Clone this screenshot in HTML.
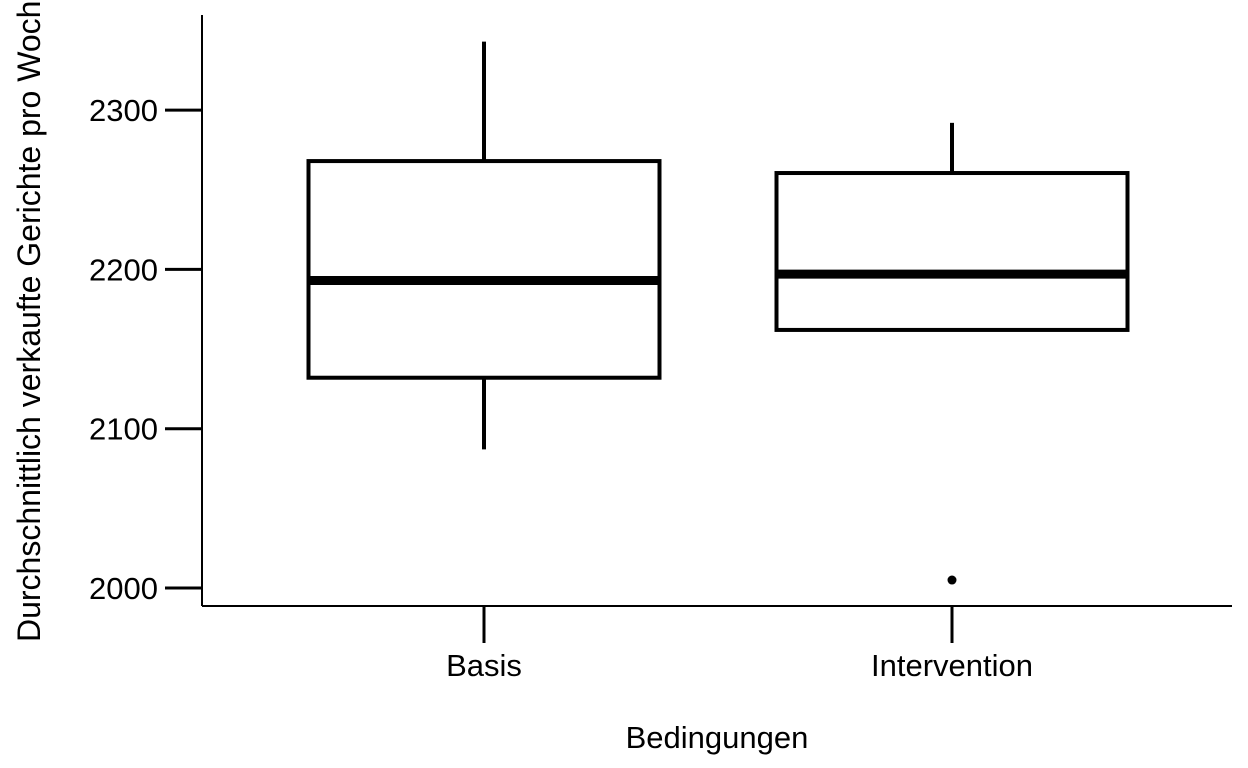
<!DOCTYPE html>
<html><head><meta charset="utf-8"><style>body{margin:0;background:#fff}svg{display:block}text{font-family:"Liberation Sans",sans-serif;fill:#000}</style></head>
<body>
<svg id="chart" width="1248" height="768" xmlns="http://www.w3.org/2000/svg">
<g id="axes"></g><g id="boxes"></g>
<text x="717" y="748" font-size="31" text-anchor="middle">Bedingungen</text>
<text transform="translate(40,642) rotate(-90)" font-size="32" text-anchor="start">Durchschnittlich verkaufte Gerichte pro Woche</text>
</svg>
<script>
const categories = ["Basis", "Intervention"];
const whiskerHigh = [2343, 2292];
const q3 = [2268, 2260.5];
const median = [2193, 2197];
const q1 = [2132, 2162];
const whiskerLow = [2087, 2162];
const outliers = [[], [2005]];
const yTicks = [2000, 2100, 2200, 2300];

const NS = "http://www.w3.org/2000/svg";
const y = v => 588 - (v - 2000) * 1.593;
const x = i => 484 + i * 468;
const halfW = 175.5;
function mk(tag, attrs, parent){const e=document.createElementNS(NS,tag);for(const k in attrs)e.setAttribute(k,attrs[k]);parent.appendChild(e);return e;}
const axes = document.getElementById('axes'), boxes = document.getElementById('boxes');
let l = mk('line',{x1:202,y1:15,x2:202,y2:606,stroke:'#000','stroke-width':2},axes);


l = mk('line',{x1:202,y1:606,x2:1232,y2:606,stroke:'#000','stroke-width':2},axes);


yTicks.forEach(t=>{
  const tk = mk('line',{x1:165,y1:y(t),x2:202,y2:y(t),stroke:'#000','stroke-width':3},axes);
  
  
  const tx = mk('text',{x:158,y:y(t)+11,'font-size':31,'text-anchor':'end'},axes);
  tx.textContent = t;
  
  
});
categories.forEach((c,i)=>{
  const cx = x(i);
  const tk = mk('line',{x1:cx,y1:606,x2:cx,y2:643,stroke:'#000','stroke-width':3},axes);
  
  
  const tx = mk('text',{x:cx,y:676,'font-size':31,'text-anchor':'middle'},axes);
  tx.textContent = c;
  
  
  const g = mk('g',{},boxes);
  
  
  mk('line',{x1:cx,y1:y(whiskerHigh[i]),x2:cx,y2:y(q3[i]),stroke:'#000','stroke-width':4},g);
  mk('line',{x1:cx,y1:y(q1[i]),x2:cx,y2:y(whiskerLow[i]),stroke:'#000','stroke-width':4},g);
  mk('rect',{x:cx-halfW,y:y(q3[i]),width:halfW*2,height:y(q1[i])-y(q3[i]),fill:'#fff',stroke:'#000','stroke-width':4},g);
  mk('line',{x1:cx-halfW,y1:y(median[i]),x2:cx+halfW,y2:y(median[i]),stroke:'#000','stroke-width':9},g);
  outliers[i].forEach(o=>{
    const p = mk('circle',{cx:cx,cy:y(o),r:4.5,fill:'#000'},g);
    
    
  });
});
</script>
</body></html>
